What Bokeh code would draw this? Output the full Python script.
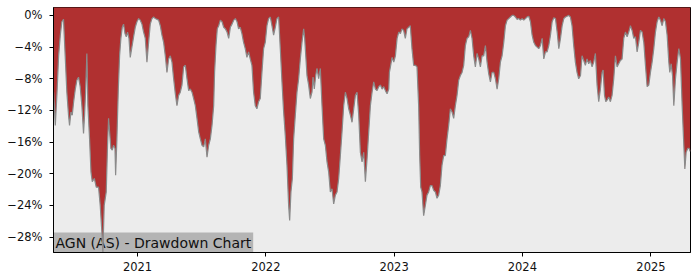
import numpy as np
import pandas as pd
from bokeh.plotting import figure
from bokeh.models import Range1d, FixedTicker, CustomJSTickFormatter, DatetimeTickFormatter, Label
from bokeh.embed import file_html
from bokeh.resources import INLINE

title_text = "AGN (AS) - Drawdown Chart"

years = [
    2020.346, 2020.359, 2020.372, 2020.385, 2020.398, 2020.410, 2020.423, 2020.436, 2020.449, 2020.462,
    2020.470, 2020.481, 2020.491, 2020.502, 2020.515, 2020.527, 2020.540, 2020.553, 2020.566, 2020.579,
    2020.587, 2020.595, 2020.605, 2020.613, 2020.626, 2020.637, 2020.647, 2020.663, 2020.678, 2020.696,
    2020.709, 2020.722, 2020.730, 2020.740, 2020.756, 2020.766, 2020.774, 2020.782, 2020.792, 2020.803,
    2020.813, 2020.824, 2020.829, 2020.839, 2020.850, 2020.860, 2020.870, 2020.881, 2020.891, 2020.902,
    2020.912, 2020.922, 2020.933, 2020.943, 2020.954, 2020.969, 2020.982, 2020.995, 2021.008, 2021.021,
    2021.034, 2021.047, 2021.060, 2021.073, 2021.086, 2021.099, 2021.112, 2021.125,
    2021.138, 2021.164, 2021.177, 2021.190, 2021.203, 2021.216, 2021.229, 2021.242, 2021.255, 2021.268,
    2021.281, 2021.294, 2021.307, 2021.320, 2021.333, 2021.346, 2021.359, 2021.372, 2021.385, 2021.398,
    2021.411, 2021.424, 2021.437, 2021.450, 2021.463, 2021.476, 2021.489, 2021.502, 2021.515, 2021.528,
    2021.541, 2021.554, 2021.567, 2021.580, 2021.593, 2021.600, 2021.611, 2021.621, 2021.632, 2021.645,
    2021.658, 2021.671, 2021.684, 2021.697, 2021.710, 2021.723, 2021.736, 2021.749, 2021.762, 2021.775,
    2021.787, 2021.800, 2021.813, 2021.826, 2021.839, 2021.852, 2021.865, 2021.878, 2021.891, 2021.904,
    2021.917, 2021.930, 2021.943,
    2021.956, 2021.969, 2021.982, 2021.995, 2022.008, 2022.021, 2022.034, 2022.047, 2022.060, 2022.073,
    2022.086, 2022.099, 2022.112, 2022.125, 2022.138, 2022.151, 2022.164, 2022.177, 2022.185, 2022.195,
    2022.206, 2022.216, 2022.229, 2022.242, 2022.255, 2022.268, 2022.281, 2022.294, 2022.302, 2022.312,
    2022.320, 2022.333, 2022.346, 2022.359, 2022.367, 2022.377, 2022.388, 2022.398, 2022.411, 2022.424,
    2022.437, 2022.450, 2022.463, 2022.476, 2022.489, 2022.502, 2022.515, 2022.528, 2022.541, 2022.554,
    2022.567, 2022.580, 2022.593, 2022.606, 2022.619, 2022.632, 2022.645, 2022.658, 2022.671, 2022.684,
    2022.697, 2022.710, 2022.723, 2022.736, 2022.749, 2022.762,
    2022.775, 2022.788, 2022.801, 2022.814, 2022.827, 2022.840, 2022.853, 2022.866, 2022.879, 2022.892,
    2022.905, 2022.918, 2022.931, 2022.944, 2022.957, 2022.962, 2022.970, 2022.983, 2022.996, 2023.009,
    2023.022, 2023.035, 2023.048, 2023.060, 2023.073, 2023.086, 2023.099, 2023.112, 2023.125, 2023.138,
    2023.151, 2023.164, 2023.177, 2023.190, 2023.198, 2023.206, 2023.216, 2023.229, 2023.242, 2023.255,
    2023.268, 2023.281, 2023.294, 2023.307, 2023.320, 2023.333, 2023.346, 2023.359, 2023.372, 2023.385,
    2023.398, 2023.411, 2023.424, 2023.437, 2023.450, 2023.463, 2023.476, 2023.489, 2023.502, 2023.515,
    2023.528, 2023.541, 2023.554, 2023.567, 2023.580,
    2023.593, 2023.606, 2023.619, 2023.632, 2023.645, 2023.658, 2023.671, 2023.684, 2023.697, 2023.710,
    2023.723, 2023.736, 2023.749, 2023.762, 2023.775, 2023.788, 2023.801, 2023.814, 2023.827, 2023.840,
    2023.853, 2023.866, 2023.879, 2023.892, 2023.905, 2023.918, 2023.931, 2023.944, 2023.957, 2023.970,
    2023.983, 2023.996, 2024.009, 2024.022, 2024.035, 2024.048, 2024.061, 2024.074, 2024.087, 2024.100,
    2024.113, 2024.126, 2024.139, 2024.152, 2024.165, 2024.178, 2024.191, 2024.204, 2024.217, 2024.230,
    2024.243, 2024.256, 2024.269, 2024.282, 2024.295, 2024.308, 2024.321, 2024.334, 2024.346, 2024.359,
    2024.372, 2024.385, 2024.398, 2024.411, 2024.424, 2024.437,
    2024.451, 2024.463, 2024.476, 2024.489, 2024.502, 2024.515, 2024.528, 2024.541, 2024.554, 2024.567,
    2024.580, 2024.593, 2024.606, 2024.619, 2024.627, 2024.638, 2024.648, 2024.658, 2024.671, 2024.684,
    2024.697, 2024.710, 2024.723, 2024.736, 2024.749, 2024.762, 2024.775, 2024.788, 2024.801, 2024.814,
    2024.827, 2024.840, 2024.853, 2024.866, 2024.879, 2024.892, 2024.905, 2024.918, 2024.931, 2024.944,
    2024.957, 2024.970, 2024.983, 2024.996, 2025.009, 2025.022, 2025.035, 2025.048, 2025.061, 2025.074,
    2025.087, 2025.100, 2025.113, 2025.126, 2025.139, 2025.147, 2025.157, 2025.168, 2025.178, 2025.191,
    2025.204, 2025.217, 2025.230, 2025.243, 2025.256, 2025.264, 2025.274, 2025.287, 2025.297, 2025.306,
]

drawdown = [
    -9.7, -13.9, -9.9, -5.1, -2.5, -0.8, -0.5, -5.1, -9.7, -12.6,
    -13.9, -12.2, -12.6, -10.9, -9.3, -8.2, -7.8, -9.0, -11.4, -14.9,
    -12.6, -9.7, -4.8, -11.4, -15.6, -19.8, -21.0, -20.6, -21.7, -21.7,
    -24.0, -27.4, -29.9, -24.0, -22.3, -16.4, -13.0, -14.7, -16.8, -17.0,
    -16.4, -16.8, -20.2, -15.6, -9.3, -5.1, -2.9, -1.5, -1.1, -2.3,
    -2.7, -2.1, -2.9, -5.3, -4.2, -2.7, -1.5, -0.8, -0.4, -0.6,
    -1.1, -2.1, -2.9, -5.9, -3.4, -1.1, -0.4, -0.2,
    -0.4, -0.6, -1.3, -2.5, -3.4, -5.1, -7.2, -5.5, -5.1, -5.9,
    -8.0, -9.9, -11.4, -10.1, -9.7, -8.8, -6.5, -6.3, -8.0, -9.5,
    -9.3, -9.7, -10.5, -11.4, -13.0, -14.7, -15.6, -16.4, -16.6, -15.6,
    -17.9, -16.4, -15.6, -13.9, -11.4, -7.2, -3.8, -1.7, -1.3, -0.6,
    -0.8, -1.5, -1.7, -2.1, -2.9, -1.5, -1.1, -0.6, -0.4, -0.8,
    -1.7, -1.5, -2.3, -3.4, -4.2, -5.3, -4.6, -5.5, -6.3, -9.7,
    -11.4, -11.8, -10.9,
    -10.5, -7.2, -4.2, -3.4, -1.3, -0.4, -0.2, -1.3, -2.5, -1.5,
    -0.4, -0.2, -4.2, -8.4, -12.2, -15.2, -18.9, -24.0, -25.9, -22.3,
    -20.6, -15.6, -12.6, -9.7, -8.0, -5.5, -3.4, -1.7, -2.9, -5.5,
    -7.6, -8.8, -10.5, -9.7, -7.8, -9.3, -7.6, -6.7, -8.0, -6.7,
    -11.4, -15.6, -16.4, -18.5, -19.8, -22.3, -21.9, -23.8, -22.7, -22.3,
    -20.6, -17.7, -14.7, -11.4, -9.7, -10.5, -11.8, -12.6, -13.5, -11.8,
    -10.1, -9.7, -12.6, -17.3, -18.5, -17.3,
    -21.0, -18.1, -14.7, -11.4, -9.7, -8.4, -9.3, -9.5, -9.0, -8.8,
    -9.3, -9.0, -9.5, -9.9, -9.3, -7.2, -6.5, -5.3, -5.9, -5.1,
    -2.9, -2.1, -2.3, -1.7, -1.9, -2.9, -1.7, -1.5, -1.3, -4.2,
    -6.3, -6.3, -6.5, -11.4, -17.7, -21.7, -22.3, -25.3, -24.0, -22.7,
    -22.3, -21.5, -21.5, -22.1, -22.3, -23.1, -22.7, -21.5, -18.9, -17.7,
    -17.7, -15.6, -13.9, -11.8, -12.2, -13.0, -11.4, -10.1, -8.2, -7.6,
    -7.2, -6.3, -3.8, -2.9, -2.7,
    -1.9, -2.9, -5.1, -6.5, -4.8, -5.5, -6.5, -5.1, -5.1, -3.8,
    -5.9, -7.4, -8.4, -7.2, -7.2, -8.0, -9.3, -8.0, -5.9, -5.1,
    -3.4, -1.3, -0.6, -0.4, -0.2, 0.0, 0.0, -0.2, -0.5, -0.4,
    -0.6, -0.4, -0.6, -0.4, -0.2, -0.1, -0.8, -2.5, -3.4, -3.8,
    -4.0, -4.2, -3.8, -2.9, -5.5, -4.6, -4.6, -3.8, -2.5, -0.8,
    -0.3, -0.4, -2.1, -4.2, -2.9, -1.3, -0.4, -0.2, -0.1, 0.0,
    -0.2, -1.3, -3.8, -5.9, -7.2, -8.0,
    -7.6, -5.1, -5.7, -6.3, -5.5, -6.1, -5.7, -6.5, -5.9, -4.8,
    -8.8, -10.9, -9.3, -7.2, -6.9, -10.1, -10.9, -10.7, -10.3, -10.9,
    -10.1, -8.0, -5.1, -6.5, -6.1, -5.7, -5.5, -2.9, -2.1, -2.7,
    -2.1, -1.3, -1.9, -2.9, -2.7, -4.6, -3.4, -1.9, -2.1, -3.4,
    -6.3, -9.0, -8.8, -7.2, -5.9, -4.2, -2.1, -0.8, -0.2, -0.6,
    -1.3, -0.4, -0.8, -2.5, -5.9, -7.2, -6.1, -7.6, -11.4, -8.0,
    -5.9, -4.2, -5.5, -11.4, -16.4, -19.4, -17.3, -16.8, -16.8, -17.2,
]

y_ticks = [0, -4, -8, -12, -16, -20, -24, -28]
x_tick_years = [2021, 2022, 2023, 2024, 2025]


def to_dt(yrs):
    base = pd.Timestamp("2021-01-01")
    return base + pd.to_timedelta((np.asarray(yrs) - 2021.0) * 365.25, unit="D")


dates = to_dt(years)
x_start = to_dt([2020.345])[0]
x_end = to_dt([2025.308])[0]
y_lo, y_hi = -29.95, 1.0

p = figure(width=700, height=280, x_axis_type="datetime", output_backend="svg",
           toolbar_location=None,
           x_range=Range1d(x_start, x_end), y_range=Range1d(y_lo, y_hi),
           min_border_left=53, min_border_right=10, min_border_top=7, min_border_bottom=28)

p.background_fill_color = "#ececec"
p.border_fill_color = "white"
p.outline_line_color = "black"
p.outline_line_width = 1
p.xgrid.visible = False
p.ygrid.visible = False

lbl = Label(x=x_start, y=y_lo, x_units="data", y_units="data", text=title_text,
            text_font="DejaVu Sans", text_font_size="14px", text_color="#111111",
            text_baseline="bottom", text_align="left",
            background_fill_color="#b4b4b4", background_fill_alpha=1.0, padding=2,
            level="underlay")
p.add_layout(lbl)

top = [y_hi + 1.0] * len(drawdown)
p.varea(x=dates, y1=drawdown, y2=top, fill_color="#b03030", fill_alpha=1.0)
p.line(x=dates, y=drawdown, line_color="#8a8a8a", line_width=1.2)

tick_ms = [pd.Timestamp(f"{y}-01-01").value / 1e6 for y in x_tick_years]
p.xaxis.ticker = FixedTicker(ticks=tick_ms)
p.xaxis.formatter = DatetimeTickFormatter(years="%Y", months="%Y", days="%Y", hours="%Y")
p.yaxis.ticker = FixedTicker(ticks=y_ticks)
p.yaxis.formatter = CustomJSTickFormatter(code="""
    if (tick == 0) return "0%";
    return (tick < 0 ? "\u2212" : "") + Math.abs(tick) + "%";
""")

for ax in (p.xaxis[0], p.yaxis[0]):
    ax.axis_line_color = "black"
    ax.axis_line_width = 1
    ax.major_tick_line_color = "black"
    ax.major_tick_out = 4
    ax.major_tick_in = 0
    ax.minor_tick_line_color = None
    ax.major_label_text_font = "DejaVu Sans"
    ax.major_label_text_font_size = "11.5px"
    ax.major_label_text_color = "#111111"
p.yaxis[0].major_label_standoff = 7
p.xaxis[0].major_label_standoff = 5

open("out.html", "w").write(file_html(p, INLINE))
